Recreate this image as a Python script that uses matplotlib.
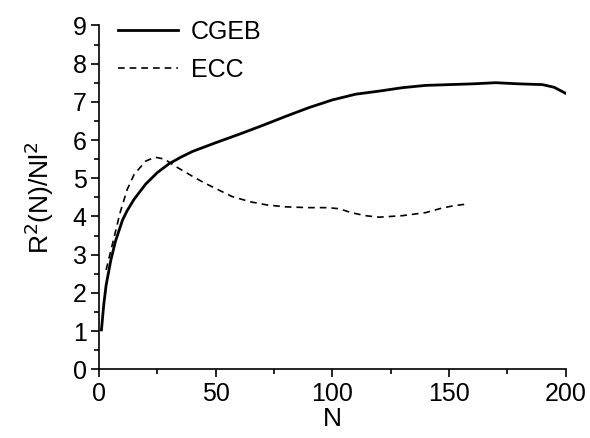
import numpy as np
import matplotlib.pyplot as plt
from matplotlib.ticker import MultipleLocator

plt.rcParams['font.family'] = ['Liberation Sans', 'DejaVu Sans']

# CGEB curve
n_cgeb = [1, 2, 3, 5, 7, 10, 12, 15, 20, 25, 30, 35, 40, 50, 60, 70, 80, 90,
          100, 110, 120, 130, 140, 150, 160, 170, 180, 190, 195, 200]
r_cgeb = [1.03, 1.7, 2.2, 2.85, 3.35, 3.9, 4.15, 4.45, 4.85, 5.15, 5.38, 5.55,
          5.7, 5.93, 6.15, 6.38, 6.62, 6.85, 7.05, 7.2, 7.28, 7.37, 7.43, 7.45,
          7.47, 7.5, 7.47, 7.45, 7.38, 7.22]

# ECC curve
n_ecc = [3, 5, 7, 9, 12, 15, 20, 24, 28, 33, 40, 45, 50, 57, 65, 72, 80, 90,
         98, 103, 108, 114, 120, 130, 140, 147, 152, 157]
r_ecc = [2.6, 3.1, 3.6, 4.1, 4.7, 5.1, 5.45, 5.55, 5.5, 5.3, 5.05, 4.88, 4.73,
         4.52, 4.38, 4.3, 4.25, 4.23, 4.23, 4.2, 4.1, 4.02, 3.98, 4.02, 4.1,
         4.22, 4.28, 4.32]

fig = plt.figure(figsize=(5.9, 4.38), dpi=100)
ax = fig.add_axes([0.168, 0.157, 0.791, 0.785])

ax.plot(n_cgeb, r_cgeb, 'k-', lw=2.0, label='CGEB')
ax.plot(n_ecc, r_ecc, 'k--', lw=1.2, dashes=(4, 3), label='ECC')

ax.set_xlim(0, 200)
ax.set_ylim(0, 9)
ax.xaxis.set_major_locator(MultipleLocator(50))
ax.xaxis.set_minor_locator(MultipleLocator(25))
ax.yaxis.set_major_locator(MultipleLocator(1))
ax.yaxis.set_minor_locator(MultipleLocator(0.5))

ax.spines['top'].set_visible(False)
ax.spines['right'].set_visible(False)
ax.spines['left'].set_linewidth(1.2)
ax.spines['bottom'].set_linewidth(1.2)
ax.tick_params(which='major', length=6, width=1.2, labelsize=18, pad=3)
ax.tick_params(which='minor', length=3.5, width=1.2)

ax.set_xlabel('N', fontsize=19, labelpad=1)
ax.set_ylabel('R$^2$(N)/Nl$^2$', fontsize=19, labelpad=12)

ax.legend(loc='upper left', frameon=False, fontsize=18, handlelength=2.4,
          handletextpad=0.5, borderaxespad=0.0, bbox_to_anchor=(0.02, 1.045),
          labelspacing=0.55)

fig.savefig('out.png', dpi=100)
